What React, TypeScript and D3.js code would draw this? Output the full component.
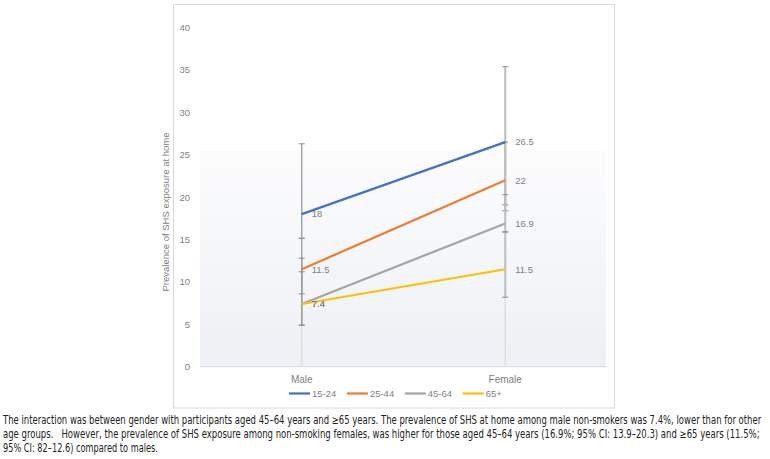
import React, { useLayoutEffect, useRef } from "react";
import * as d3 from "d3";

// prevalence (%) of second-hand smoke exposure at home, by sex and age group
const genders = ["Male", "Female"];
const ageGroups = ["15-24", "25-44", "45-64", "65+"];
const maleValues = [18, 11.5, 7.4, 7.4];
const femaleValues = [26.5, 22, 16.9, 11.5];
// 95% CI whiskers, [low, high] per age group
const maleCI = [[15.15, 26.3], [8.6, 15.15], [4.9, 12.8], [4.9, 11.2]];
const femaleCI = [[18.4, 35.4], [19.1, 26.5], [15.9, 20.3], [8.2, 15.9]];
const yTicks = [0, 5, 10, 15, 20, 25, 30, 35, 40];
const colors = ["#4472C4", "#ED7D31", "#A5A5A5", "#FFC000"];

const captionLines = [
  "The interaction was between gender with participants aged 45–64 years and ≥65 years. The prevalence of SHS at home among male non-smokers was 7.4%, lower than for other",
  "age groups.   However, the prevalence of SHS exposure among non-smoking females, was higher for those aged 45–64 years (16.9%; 95% CI: 13.9–20.3) and ≥65 years (11.5%;",
  "95% CI: 82–12.6) compared to males.",
];
const captionWidths = [759, 758, 155];

const W = 770;
const H = 459;
const font = "'Liberation Sans', Arial, sans-serif";
const labelGray = "#7f7f7f";

export default function App() {
  const captionRef = useRef<SVGGElement>(null);

  // squeeze each caption line horizontally to its target width
  useLayoutEffect(() => {
    if (!captionRef.current) return;
    d3.select(captionRef.current)
      .selectAll<SVGTextElement, unknown>("text")
      .each(function (_, i) {
        const natural = this.getComputedTextLength();
        const k = natural > 0 ? captionWidths[i] / natural : 1;
        d3.select(this).attr("transform", `translate(3,0) scale(${k},1)`);
      });
  }, []);

  const x = d3.scalePoint<string>().domain(genders).range([200, 607]).padding(0.5);
  const y = d3.scaleLinear().domain([0, 40]).range([366.7, 27.7]);

  const series = ageGroups.map((g, i) => ({
    name: g,
    color: colors[i],
    points: [
      { g: "Male", v: maleValues[i], ci: maleCI[i] },
      { g: "Female", v: femaleValues[i], ci: femaleCI[i] },
    ],
  }));

  const line = d3
    .line<{ g: string; v: number }>()
    .x((d) => x(d.g)!)
    .y((d) => y(d.v));

  const barStyle: Record<string, { stroke: string; width: number }> = {
    Male: { stroke: "#9b9b9b", width: 1.3 },
    Female: { stroke: "#bdbdbd", width: 2 },
  };

  const legendStart = 289;
  const legendStep = 57.9;

  return (
    <svg
      width={W}
      height={H}
      style={{ position: "absolute", left: 0, top: 0, background: "#fff" }}
      fontFamily={font}
    >
      <defs>
        <linearGradient id="plotFill" x1="0" y1="0" x2="0" y2="1">
          <stop offset="0" stopColor="#fcfcfd" />
          <stop offset="1" stopColor="#edf0f4" />
        </linearGradient>
      </defs>

      {/* chart frame */}
      <rect x={173.5} y={4.5} width={441} height={403.5} fill="#fff" stroke="#d9d9d9" />
      <rect x={200} y={150} width={406} height={y(0) - 150} fill="url(#plotFill)" />

      {/* y axis labels */}
      {yTicks.map((t) => (
        <text key={t} x={190} y={y(t)} dy="0.35em" textAnchor="end" fontSize={9.5} fill={labelGray}>
          {t}
        </text>
      ))}
      <text
        transform={`translate(166,212) rotate(-90)`}
        textAnchor="middle"
        dy="0.35em"
        fontSize={9.5}
        fill={labelGray}
      >
        Prevalence of SHS exposure at home
      </text>

      {/* baseline */}
      <line x1={200} x2={607} y1={y(0)} y2={y(0)} stroke="#d9d9d9" strokeWidth={1} />

      {/* drop lines below the lowest whisker */}
      {genders.map((g) => {
        const ci = g === "Male" ? maleCI : femaleCI;
        const lo = d3.min(ci, (c) => c[0])!;
        return (
          <line key={g} x1={x(g)} x2={x(g)} y1={y(lo)} y2={y(0)} stroke="#dedede" strokeWidth={1.5} />
        );
      })}

      {/* error bars */}
      {series.map((s) =>
        s.points.map((p) => {
          const cx = x(p.g)!;
          const st = barStyle[p.g];
          return (
            <g key={s.name + p.g}>
              <line x1={cx} x2={cx} y1={y(p.ci[0])} y2={y(p.ci[1])} stroke={st.stroke} strokeWidth={st.width} />
              {p.ci.map((c, j) => (
                <line key={j} x1={cx - 3} x2={cx + 3} y1={y(c)} y2={y(c)} stroke="#8c8c8c" strokeWidth={1} />
              ))}
            </g>
          );
        })
      )}

      {/* series lines */}
      {series.map((s) => (
        <path key={s.name} d={line(s.points)!} fill="none" stroke={s.color} strokeWidth={2.25} />
      ))}

      {/* data labels */}
      {series.map((s) =>
        s.points.map((p) => (
          <text
            key={s.name + p.g + "l"}
            x={x(p.g)! + 10}
            y={y(p.v)}
            dy="0.35em"
            fontSize={9.5}
            fill={labelGray}
          >
            {p.v}
          </text>
        ))
      )}

      {/* category labels */}
      {genders.map((g) => (
        <text key={g} x={x(g)} y={379} dy="0.35em" textAnchor="middle" fontSize={10} fill={labelGray}>
          {g}
        </text>
      ))}

      {/* legend */}
      {series.map((s, i) => {
        const lx = legendStart + i * legendStep;
        return (
          <g key={s.name}>
            <line x1={lx} x2={lx + 21} y1={393.5} y2={393.5} stroke={s.color} strokeWidth={2.25} />
            <text x={lx + 23} y={393.5} dy="0.35em" fontSize={9.5} fill={labelGray}>
              {s.name}
            </text>
          </g>
        );
      })}

      {/* caption */}
      <g ref={captionRef}>
        {captionLines.map((t, i) => (
          <text
            key={i}
            x={0}
            y={424 + i * 14}
            fontSize={11.5}
            fill="#222"
            fontFamily="'Liberation Sans Narrow', 'DejaVu Sans Condensed', 'Roboto Condensed', 'Liberation Sans', sans-serif"
            xmlSpace="preserve"
          >
            {t}
          </text>
        ))}
      </g>
    </svg>
  );
}
